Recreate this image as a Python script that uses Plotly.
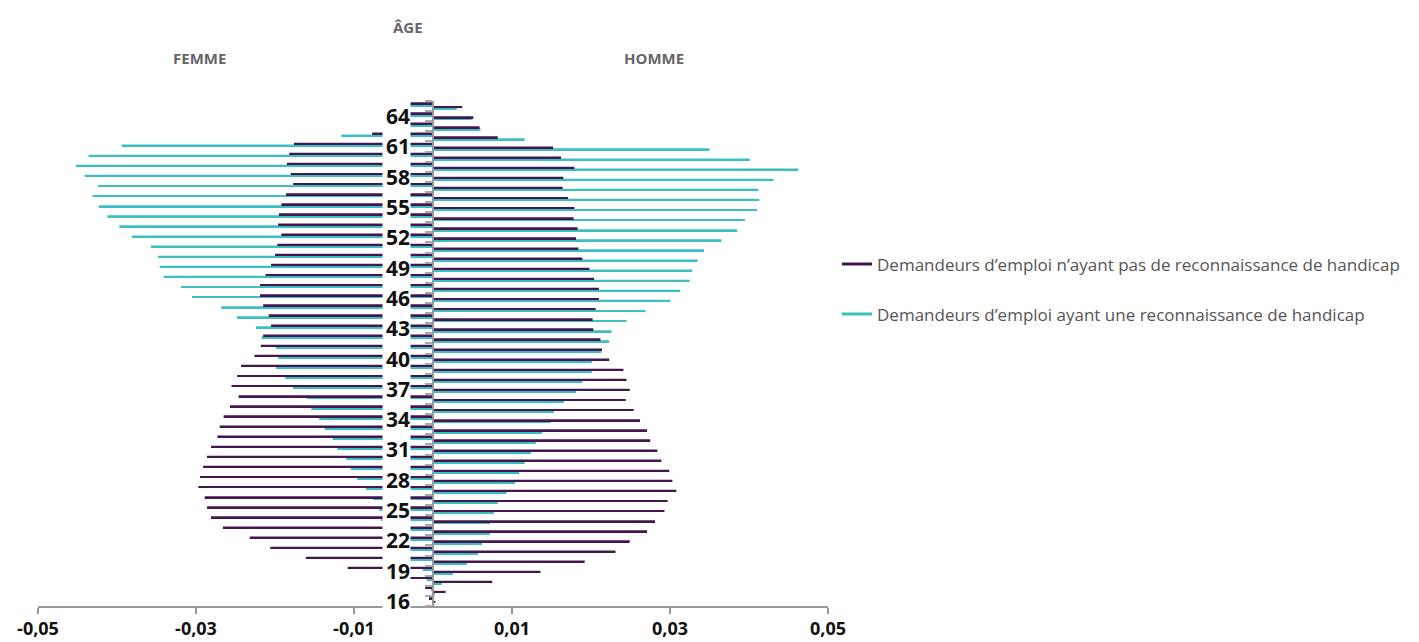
import plotly.graph_objects as go

ages = list(range(16, 66))

# Femmes (valeurs négatives), de 16 à 65 ans
femme_sans = [-0.0005, -0.0010, -0.0045, -0.0108, -0.0161, -0.0206, -0.0232, -0.0266,
              -0.0281, -0.0286, -0.0289, -0.0297, -0.0295, -0.0291, -0.0286, -0.0281,
              -0.0273, -0.0270, -0.0265, -0.0257, -0.0246, -0.0255, -0.0248, -0.0243,
              -0.0226, -0.0218, -0.0215, -0.0205, -0.0208, -0.0215, -0.0219, -0.0219,
              -0.0212, -0.0205, -0.0200, -0.0197, -0.0192, -0.0196, -0.0195, -0.0192,
              -0.0186, -0.0177, -0.0180, -0.0185, -0.0182, -0.0176, -0.0077, -0.0055,
              -0.0048, -0.0035]
femme_avec = [-0.0001, -0.0002, -0.0008, -0.0013, -0.0035, -0.0045, -0.0050, -0.0058,
              -0.0066, -0.0068, -0.0076, -0.0085, -0.0096, -0.0104, -0.0110, -0.0121,
              -0.0127, -0.0137, -0.0144, -0.0154, -0.0160, -0.0177, -0.0187, -0.0199,
              -0.0196, -0.0199, -0.0217, -0.0224, -0.0248, -0.0268, -0.0305, -0.0319,
              -0.0341, -0.0346, -0.0348, -0.0357, -0.0381, -0.0397, -0.0412, -0.0423,
              -0.0431, -0.0424, -0.0441, -0.0452, -0.0436, -0.0394, -0.0116, -0.0058,
              -0.0050, -0.0030]
# Hommes (valeurs positives), de 16 à 65 ans
homme_sans = [0.0003, 0.0016, 0.0075, 0.0136, 0.0192, 0.0231, 0.0249, 0.0271,
              0.0281, 0.0293, 0.0297, 0.0308, 0.0303, 0.0299, 0.0289, 0.0284,
              0.0275, 0.0271, 0.0262, 0.0254, 0.0244, 0.0249, 0.0245, 0.0241,
              0.0223, 0.0214, 0.0212, 0.0203, 0.0202, 0.0206, 0.0210, 0.0210,
              0.0204, 0.0198, 0.0189, 0.0184, 0.0181, 0.0183, 0.0178, 0.0179,
              0.0171, 0.0164, 0.0165, 0.0179, 0.0162, 0.0152, 0.0082, 0.0059,
              0.0051, 0.0037]
homme_avec = [0.0001, 0.0002, 0.0011, 0.0025, 0.0043, 0.0057, 0.0062, 0.0072,
              0.0072, 0.0077, 0.0082, 0.0093, 0.0104, 0.0109, 0.0116, 0.0124,
              0.0130, 0.0138, 0.0149, 0.0153, 0.0166, 0.0181, 0.0189, 0.0201,
              0.0201, 0.0213, 0.0223, 0.0226, 0.0245, 0.0269, 0.0300, 0.0313,
              0.0325, 0.0328, 0.0335, 0.0343, 0.0365, 0.0385, 0.0395, 0.0410,
              0.0413, 0.0412, 0.0431, 0.0462, 0.0401, 0.0350, 0.0116, 0.0060,
              0.0049, 0.0030]

age_labels = list(range(16, 65, 3))
x_ticks = [-0.05, -0.03, -0.01, 0.01, 0.03, 0.05]
x_ticktext = ["-0,05", "-0,03", "-0,01", "0,01", "0,03", "0,05"]

serie_sans = "Demandeurs d’emploi n’ayant pas de reconnaissance de handicap"
serie_avec = "Demandeurs d’emploi ayant une reconnaissance de handicap"

PURPLE = "#43164f"
TEAL = "#3cbfbf"
FONT = "Open Sans"

fig = go.Figure()
# order bottom->top inside each group: homme avec, homme sans, femme avec, femme sans
for vals, col in [(homme_avec, TEAL), (homme_sans, PURPLE), (femme_avec, TEAL), (femme_sans, PURPLE)]:
    fig.add_trace(go.Bar(x=vals, y=ages, orientation="h", marker=dict(color=col, line=dict(width=0)),
                         showlegend=False, hoverinfo="skip"))

fig.add_trace(go.Scatter(x=[None], y=[None], mode="lines", line=dict(color=PURPLE, width=3),
                         name=serie_sans, legendgroup="a"))
fig.add_trace(go.Scatter(x=[None], y=[None], mode="lines", line=dict(color=TEAL, width=3),
                         name=serie_avec, legendgroup="b"))

for a in age_labels:
    fig.add_annotation(x=0, y=a, xref="x", yref="y", text=str(a), showarrow=False,
                       xanchor="right", yanchor="middle", xshift=-22, width=27, height=30,
                       align="right", bgcolor="white", borderpad=0,
                       font=dict(family=FONT, size=21, color="#111", weight="bold"))

for txt, xp, yp in [("ÂGE", 0.468, 1.146), ("FEMME", 0.205, 1.085), ("HOMME", 0.78, 1.085)]:
    fig.add_annotation(x=xp, y=yp, xref="paper", yref="paper", text=txt, showarrow=False,
                       xanchor="center", yanchor="middle",
                       font=dict(family=FONT, size=15, color="#666", weight="bold"))

fig.update_layout(
    width=1411, height=634,
    margin=dict(l=30, r=591, t=93, b=36),
    paper_bgcolor="white", plot_bgcolor="white",
    barmode="group", bargap=0.25, bargroupgap=0,
    separators=", ",
    font=dict(family=FONT),
    showlegend=True,
    legend=dict(x=1.0114, xanchor="left", y=0.712, yanchor="top", traceorder="grouped",
                tracegroupgap=25, itemwidth=30,
                font=dict(family=FONT, size=17, color="#555"), bgcolor="rgba(0,0,0,0)"),
    xaxis=dict(range=[-0.05, 0.05], tickvals=x_ticks, ticktext=x_ticktext,
               showgrid=False, zeroline=False, showline=True, linecolor="#999", linewidth=1.5,
               ticks="outside", ticklen=6, tickcolor="#999", tickwidth=1.5,
               tickfont=dict(family=FONT, size=18, color="#111", weight="bold"),
               automargin=False, fixedrange=True),
    yaxis=dict(range=[15.5, 65.5], anchor="free", position=0.5,
               tickmode="array", tickvals=[a - 0.5 for a in ages] + [ages[-1] + 0.5],
               showticklabels=False, showgrid=False, zeroline=False,
               showline=True, linecolor="#999", linewidth=1.5,
               ticks="outside", ticklen=7, tickcolor="#aaa", tickwidth=2,
               automargin=False, fixedrange=True),
)

fig.write_html("out.html")
